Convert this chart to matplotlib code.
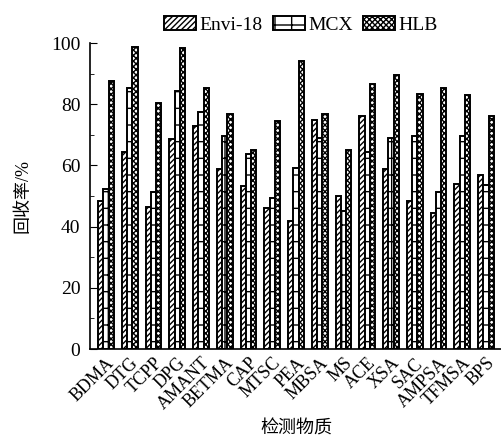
import numpy as np
import matplotlib
matplotlib.use('Agg')
import matplotlib.pyplot as plt

plt.rcParams['font.family'] = ['Liberation Serif', 'Noto Sans CJK SC']
plt.rcParams['hatch.linewidth'] = 1.0

# 数据
compounds = ['BDMA', 'DTG', 'TCPP', 'DPG', 'AMANT', 'BETMA', 'CAP', 'MTSC', 'PEA',
             'MBSA', 'MS', 'ACE', 'XSA', 'SAC', 'AMPSA', 'TFMSA', 'BPS']
envi18 = [48.5, 64.3, 46.4, 68.7, 72.8, 58.8, 53.2, 46.0, 41.8,
          74.9, 50.0, 76.0, 58.7, 48.5, 44.4, 54.0, 56.9]
mcx = [52.4, 85.3, 51.4, 84.3, 77.3, 69.6, 63.6, 49.5, 59.0,
       69.0, 45.0, 64.4, 69.0, 69.6, 51.4, 69.5, 53.5]
hlb = [87.5, 98.7, 80.3, 98.3, 85.3, 76.7, 65.1, 74.4, 94.0,
       76.7, 65.0, 86.5, 89.4, 83.2, 85.2, 82.9, 76.0]

x = np.arange(len(compounds))
w = 0.22

fig = plt.figure(figsize=(5.02, 4.41), dpi=100)
ax = fig.add_axes([90 / 502, 92 / 441, 412 / 502, 306 / 441])

ax.bar(x - w, envi18, w, color='white', edgecolor='black', hatch='//////', linewidth=1.4, label='Envi-18')
ax.bar(x, mcx, w, color='white', edgecolor='black', hatch='+', linewidth=1.4, label='MCX')
ax.bar(x + w, hlb, w, color='white', edgecolor='black', hatch='xxxxxx', linewidth=1.4, label='HLB')

ax.set_ylim(0, 100)
ax.set_xlim(-0.67, 16.67)
ax.set_yticks(np.arange(0, 101, 20))
ax.set_yticks(np.arange(0, 101, 10), minor=True)
ax.tick_params(axis='y', which='both', direction='in', labelsize=14, pad=7)
ax.tick_params(axis='y', which='major', length=5)
ax.tick_params(axis='y', which='minor', length=3)
ax.set_xticks(x)
ax.set_xticklabels(compounds, rotation=45, ha='right', rotation_mode='anchor', fontsize=13)
ax.tick_params(axis='x', length=0, pad=4)
for s in ['top', 'right']:
    ax.spines[s].set_visible(False)
for s in ['left', 'bottom']:
    ax.spines[s].set_linewidth(1.2)

ax.set_ylabel('回收率/%', fontsize=13, labelpad=14)
ax.set_xlabel('检测物质', fontsize=13, labelpad=5)

ax.legend(loc='center', bbox_to_anchor=(301 / 502, 1 - 25 / 441), bbox_transform=fig.transFigure,
          ncol=3, frameon=False, fontsize=14, handlelength=1.65, handleheight=0.67,
          handletextpad=0.15, columnspacing=0.55, borderpad=0.2)

fig.savefig('out.png', dpi=100)
